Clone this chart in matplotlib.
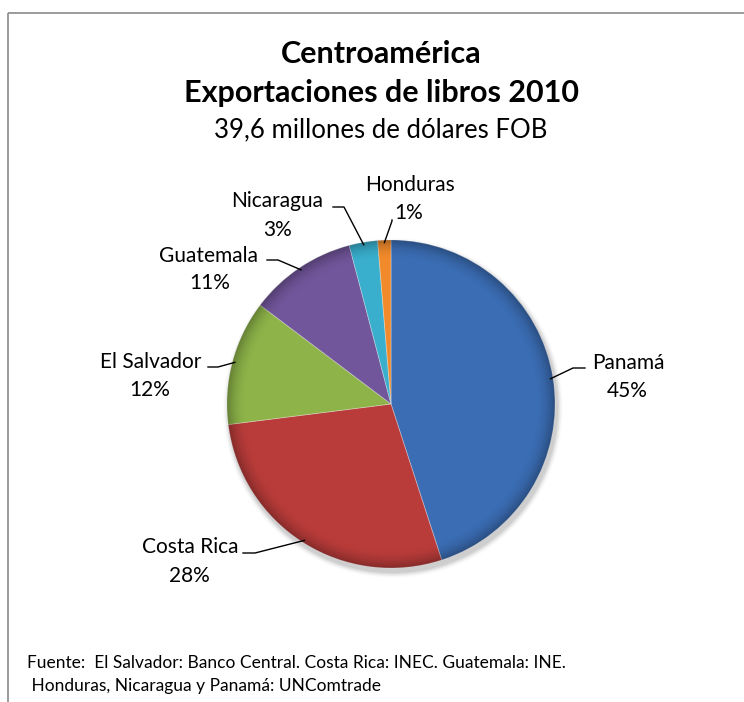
import matplotlib
matplotlib.use("Agg")
import matplotlib.pyplot as plt
from matplotlib.patches import Circle
import numpy as np

# ---- data ----
countries = ["Panamá", "Costa Rica", "El Salvador", "Guatemala", "Nicaragua", "Honduras"]
shares = [45.0, 28.0, 12.3, 10.6, 2.8, 1.3]   # % of 39,6 millones USD FOB
pct_labels = ["45%", "28%", "12%", "11%", "3%", "1%"]
colors = ["#3B6DB4", "#B93C3A", "#8DB349", "#72569B", "#39AFCD", "#F08A2B"]

title_lines = ["Centroamérica", "Exportaciones de libros 2010"]
subtitle = "39,6 millones de dólares FOB"
source_lines = ["Fuente:  El Salvador: Banco Central. Costa Rica: INEC. Guatemala: INE.",
                " Honduras, Nicaragua y Panamá: UNComtrade"]

W, H = 744, 702
FONT = ["Lato", "DejaVu Sans"]

fig = plt.figure(figsize=(W / 100, H / 100), dpi=100)
ax = fig.add_axes([0, 0, 1, 1])

def Y(y):
    return H - y

cx, cy, R = 391, Y(404), 164

# soft shadow under the pie
for k, a in zip(range(6), [0.05, 0.045, 0.04, 0.03, 0.02, 0.012]):
    ax.add_patch(Circle((cx + 2, cy - 4), R + 1 + k, color="black", alpha=a, lw=0, zorder=0.5))

wedges, _ = ax.pie(shares, colors=colors, startangle=90, counterclock=False,
                   center=(cx, cy), radius=R, frame=True,
                   wedgeprops=dict(linewidth=0.6, edgecolor=(1, 1, 1, 0.35), zorder=1))

# bevel-like rim shading
n = 400
xs = np.linspace(cx - R, cx + R, n)
ys = np.linspace(cy - R, cy + R, n)
XX, YY = np.meshgrid(xs, ys)
rr = np.hypot(XX - cx, YY - cy) / R
t = np.clip((rr - 0.88) / 0.12, 0, 1)
alpha = 0.28 * t ** 2
img = np.zeros((n, n, 4))
img[..., 3] = alpha
im = ax.imshow(img, extent=(cx - R, cx + R, cy - R, cy + R), origin="lower",
               interpolation="bilinear", zorder=2)
clip = Circle((cx, cy), R, transform=ax.transData)
im.set_clip_path(clip)

ax.set_xlim(0, W)
ax.set_ylim(0, H)
ax.set_aspect("equal")
ax.axis("off")

# frame (chart area border, cut at right/bottom)
ax.plot([8, W + 5], [Y(13), Y(13)], color="#8a8a8a", lw=1.2, solid_capstyle="butt")
ax.plot([8, 8], [Y(13), -5], color="#8a8a8a", lw=1.2, solid_capstyle="butt")

# titles
ax.text(381, Y(63), title_lines[0], ha="center", va="baseline", fontsize=22,
        fontweight="bold", family=FONT)
ax.text(381, Y(102), title_lines[1], ha="center", va="baseline", fontsize=22,
        fontweight="bold", family=FONT)
ax.text(381, Y(137), subtitle, ha="center", va="baseline", fontsize=18.5, family=FONT)

# label layout: (name_x, name_baseline, pct_x, pct_baseline, line_start, elbow)
layout = {
    "Panamá":      (628, 369, 627, 397, (585, 368), (573, 368)),
    "Costa Rica":  (190, 553, 189, 582, (243, 553), (255, 553)),
    "El Salvador": (151, 368, 150, 396, (208, 367), (218, 367)),
    "Guatemala":   (209, 262, 210, 289, (267, 260), (278, 260)),
    "Nicaragua":   (277, 207, 278, 236, (333, 207), (344, 207)),
    "Honduras":    (410, 191, 409, 219, (392, 220), (392, 221)),
}

for w, name, pct in zip(wedges, countries, pct_labels):
    nx, nb, px, pb, s, e = layout[name]
    ax.text(nx, Y(nb), name, ha="center", va="baseline", fontsize=15, family=FONT)
    ax.text(px, Y(pb), pct, ha="center", va="baseline", fontsize=15, family=FONT)
    mid = np.deg2rad((w.theta1 + w.theta2) / 2)
    ex, ey = cx + 0.985 * R * np.cos(mid), cy + 0.985 * R * np.sin(mid)
    ax.plot([s[0], e[0], ex], [Y(s[1]), Y(e[1]), ey], color="black", lw=1.0, zorder=3)

# source
ax.text(27, Y(668), source_lines[0], ha="left", va="baseline", fontsize=12.5, family=FONT)
ax.text(27, Y(691), source_lines[1], ha="left", va="baseline", fontsize=12.5, family=FONT)

fig.savefig("out.png", dpi=100, facecolor="white")
